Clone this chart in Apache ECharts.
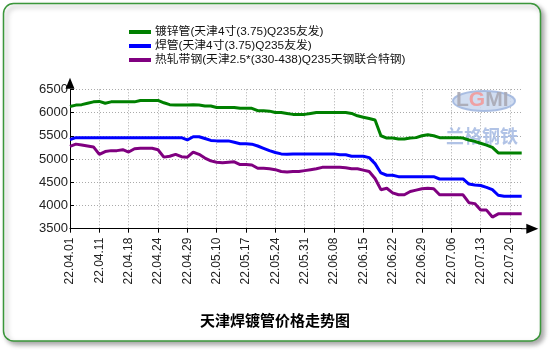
<!DOCTYPE html>
<html><head><meta charset="utf-8">
<script src="https://cdn.jsdelivr.net/npm/echarts@6/dist/echarts.min.js"></script>
<style>html,body{margin:0;padding:0;background:#fff;}#c{width:550px;height:350px;}</style>
</head><body><div id="c"></div>
<script>
var dates = ['22.04.01','22.04.02','22.04.06','22.04.07','22.04.08','22.04.11','22.04.12','22.04.13','22.04.14','22.04.15',
'22.04.18','22.04.19','22.04.20','22.04.21','22.04.22','22.04.24','22.04.25','22.04.26','22.04.27','22.04.28',
'22.04.29','22.05.05','22.05.06','22.05.07','22.05.09','22.05.10','22.05.11','22.05.12','22.05.13','22.05.16',
'22.05.17','22.05.18','22.05.19','22.05.20','22.05.23','22.05.24','22.05.25','22.05.26','22.05.27','22.05.30',
'22.05.31','22.06.01','22.06.02','22.06.06','22.06.07','22.06.08','22.06.09','22.06.10','22.06.13','22.06.14',
'22.06.15','22.06.16','22.06.17','22.06.20','22.06.21','22.06.22','22.06.23','22.06.24','22.06.27','22.06.28',
'22.06.29','22.06.30','22.07.01','22.07.04','22.07.05','22.07.06','22.07.07','22.07.08','22.07.11','22.07.12',
'22.07.13','22.07.14','22.07.15','22.07.18','22.07.19','22.07.20','22.07.21','22.07.22'];

var galvanized = [6130,6160,6170,6200,6230,6240,6200,6230,6230,6230,
6230,6230,6260,6260,6260,6260,6210,6170,6160,6160,
6160,6170,6160,6140,6140,6110,6110,6110,6110,6090,
6090,6090,6040,6040,6030,6000,6000,5980,5960,5960,
5960,5980,6000,6000,6000,6000,6000,6000,5980,5930,
5900,5870,5840,5500,5450,5450,5430,5430,5450,5460,
5500,5520,5500,5460,5460,5460,5460,5450,5410,5380,
5340,5300,5250,5130,5130,5130,5130,5130];

var welded = [5420,5460,5460,5460,5460,5460,5460,5460,5460,5460,
5460,5460,5460,5460,5460,5460,5460,5460,5460,5460,
5410,5480,5480,5440,5400,5390,5390,5390,5360,5330,
5330,5320,5280,5230,5180,5140,5110,5100,5110,5110,
5110,5110,5110,5110,5110,5110,5090,5090,5060,5060,
5060,5030,4900,4700,4650,4650,4620,4620,4620,4620,
4620,4620,4620,4570,4570,4570,4570,4570,4460,4440,
4430,4390,4340,4220,4200,4200,4200,4200];

var hotStrip = [5270,5320,5300,5280,5260,5100,5160,5180,5180,5200,
5150,5220,5230,5230,5230,5200,5040,5060,5100,5050,
5040,5150,5100,5020,4960,4930,4920,4930,4940,4880,
4880,4870,4800,4800,4790,4770,4730,4720,4730,4730,
4750,4770,4790,4820,4820,4820,4820,4810,4790,4790,
4760,4730,4580,4340,4370,4270,4230,4230,4300,4330,
4360,4370,4360,4230,4230,4230,4230,4230,4060,4040,
3900,3900,3750,3820,3820,3820,3820,3820];

var seriesNames = ['镀锌管(天津4寸(3.75)Q235友发)','焊管(天津4寸(3.75)Q235友发)','热轧带钢(天津2.5*(330-438)Q235天钢联合特钢)'];
var seriesColors = ['#008000','#0000ff','#800080'];
var yMin = 3500, yMax = 6500, yStep = 500;
var titleText = '天津焊镀管价格走势图';

var chart = echarts.init(document.getElementById('c'), null, {renderer:'canvas'});
var font = 'Arial, "Liberation Sans", "Noto Sans CJK SC", sans-serif';
var mk = function(name, data, color){
  return {name:name, type:'line', data:data, symbol:'none', smooth:false,
    lineStyle:{color:color, width:3}, itemStyle:{color:color}, z:5, animation:false};
};
chart.setOption({
  animation:false,
  backgroundColor:'transparent',
  textStyle:{fontFamily:font},
  title:{text:titleText, left:'center', top:308,
    textStyle:{fontSize:15, fontWeight:'bold', color:'#000', fontFamily:'"Noto Sans CJK SC", sans-serif'}},
  legend:{orient:'vertical', left:124, top:21, itemWidth:22, itemHeight:4, itemGap:2, icon:'rect',
    textStyle:{fontSize:11.8, color:'#111', lineHeight:12, fontFamily:'Arial, "Noto Sans CJK SC", sans-serif', padding:[0,0,0,-1]},
    data:seriesNames},
  grid:{left:70, right:28.3, top:89.3, bottom:121.3, containLabel:false},
  xAxis:{type:'category', data:dates, boundaryGap:false,
    axisLine:{lineStyle:{color:'#000', width:1}, symbol:['none','triangle'], symbolSize:[10,12], symbolOffset:[0,10.6]},
    axisTick:{show:true, interval:4, length:4, lineStyle:{color:'#000'}},
    axisLabel:{interval:4, rotate:90, fontSize:12, color:'#222', margin:9, fontFamily:font},
    splitLine:{show:true, interval:4, lineStyle:{color:'#aaa', type:[1,2], width:1}}},
  yAxis:{type:'value', min:yMin, max:yMax, interval:yStep,
    axisLine:{show:true, lineStyle:{color:'#000', width:1}, symbol:['none','triangle'], symbolSize:[9,11], symbolOffset:[0,6]},
    axisTick:{show:true, inside:true, length:4, lineStyle:{color:'#000'}},
    axisLabel:{fontSize:13, color:'#222', margin:2, fontFamily:font, formatter:function(v){return String(v);}},
    splitLine:{show:true, lineStyle:{color:'#aaa', type:[1,2], width:1}}},
  graphic:[
    {type:'rect', z:-10, shape:{x:3.5, y:3.5, width:537, height:337.5, r:10},
      style:{fill:'#fff', stroke:'#3a963a', lineWidth:1.5, shadowBlur:5, shadowColor:'rgba(0,0,0,0.35)', shadowOffsetX:3, shadowOffsetY:3}},
    {type:'line', z:1, shape:{x1:521, y1:228.7, x2:528, y2:228.7}, style:{stroke:'#000', lineWidth:1}},
    {type:'ellipse', z:1, shape:{cx:484, cy:101, rx:31, ry:10},
      style:{fill:'#c9d7ef', stroke:'#9fb5de', lineWidth:2, opacity:0.85}},
    {type:'text', z:1, left:456, top:90, style:{rich:{a:{font:'bold 21px Arial', fill:'#a8a8b4'}, b:{font:'bold 21px Arial', fill:'#f29a9a'}}, text:'{a|L}{b|G}{a|MI}', opacity:0.9}},
    {type:'text', z:1, left:446, top:127, style:{text:'兰格钢铁', font:'bold 18px "Noto Sans CJK SC"', fill:'#a9bde3', opacity:0.9}}
  ],
  series:[mk(seriesNames[0], galvanized, seriesColors[0]), mk(seriesNames[1], welded, seriesColors[1]), mk(seriesNames[2], hotStrip, seriesColors[2])]
});
</script></body></html>
